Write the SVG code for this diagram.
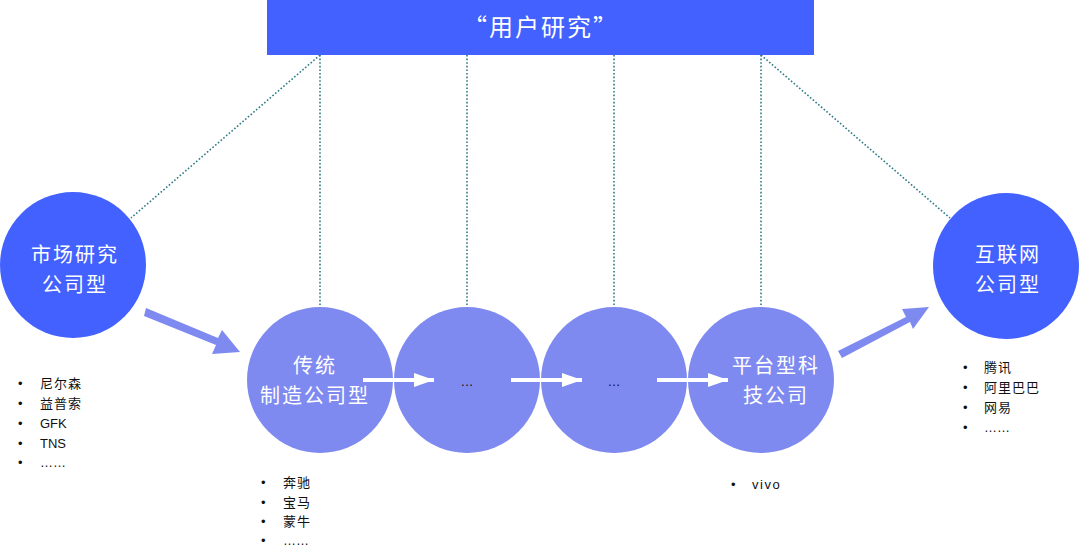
<svg xmlns="http://www.w3.org/2000/svg" width="1080" height="559" viewBox="0 0 1080 559">
<defs>
<style>
.w{fill:#fff;font-size:20px;text-anchor:middle;letter-spacing:2px;font-family:"Noto Sans CJK SC",sans-serif;}
.l{fill:#111;font-size:13px;font-family:"Liberation Sans","Noto Sans CJK SC",sans-serif;}
.dot{stroke:#2e7a86;stroke-width:1.6;stroke-dasharray:1.6 2;fill:none;}
.big{fill:#4361ff;}
.mid{fill:#7f8af0;}
</style>
<marker id="wh" markerWidth="5" markerHeight="3.5" refX="5" refY="1.75" orient="auto" markerUnits="strokeWidth"><path d="M0,0 L5,1.75 L0,3.5 Z" fill="#fff"/></marker>
</defs>
<g id="connectors">
<line class="dot" x1="320" y1="55" x2="320" y2="307"/>
<line class="dot" x1="467" y1="55" x2="467" y2="307"/>
<line class="dot" x1="614" y1="55" x2="614" y2="307"/>
<line class="dot" x1="761" y1="55" x2="761" y2="307"/>
<line class="dot" x1="320" y1="55" x2="131" y2="218"/>
<line class="dot" x1="761" y1="55" x2="950" y2="218"/>
<path d="M146,308 L218,338 L222,330 L240,352 L212,354 L216,345 L144,316 Z" class="mid"/>
<path d="M838,351 L906,317 L902,309 L929,307 L913,329 L910,322 L842,358 Z" class="mid"/>
</g>
<g id="top"><rect x="267" y="0" width="547" height="55" class="big"/><text x="541" y="36" class="w" style="font-size:24px">“用户研究”</text></g>
<g id="n-market"><circle cx="73" cy="265" r="73" class="big"/><text class="w" x="75" y="262">市场研究</text><text class="w" x="75" y="292">公司型</text></g>
<g id="n-internet"><circle cx="1006" cy="266" r="73" class="big"/><text class="w" x="1008" y="262">互联网</text><text class="w" x="1008" y="292">公司型</text></g>
<g id="n-trad"><circle cx="320" cy="380" r="73" class="mid"/><text class="w" x="315" y="373">传统</text><text class="w" x="315" y="403">制造公司型</text></g>
<g id="n-2"><circle cx="467" cy="380" r="73" class="mid"/><text x="467" y="386" class="l" text-anchor="middle">…</text></g>
<g id="n-3"><circle cx="614" cy="380" r="73" class="mid"/><text x="614" y="386" class="l" text-anchor="middle">…</text></g>
<g id="n-platform"><circle cx="761" cy="380" r="73" class="mid"/><text class="w" x="776" y="373">平台型科</text><text class="w" x="776" y="403">技公司</text></g>
<g id="white-arrows">
<line x1="363" y1="380" x2="434" y2="380" stroke="#fff" stroke-width="4" marker-end="url(#wh)"/>
<line x1="511" y1="380" x2="582" y2="380" stroke="#fff" stroke-width="4" marker-end="url(#wh)"/>
<line x1="657" y1="380" x2="728" y2="380" stroke="#fff" stroke-width="4" marker-end="url(#wh)"/>
</g>
<g id="list-market" class="l">
<text x="18" y="388">•</text><text x="40" y="388" letter-spacing="1">尼尔森</text>
<text x="18" y="408">•</text><text x="40" y="408" letter-spacing="1">益普索</text>
<text x="18" y="428">•</text><text x="40" y="428">GFK</text>
<text x="18" y="448">•</text><text x="40" y="448">TNS</text>
<text x="18" y="467">•</text><text x="40" y="467">……</text>
</g>
<g id="list-trad" class="l">
<text x="261" y="487">•</text><text x="283" y="487" letter-spacing="1">奔驰</text>
<text x="261" y="507">•</text><text x="283" y="507" letter-spacing="1">宝马</text>
<text x="261" y="526">•</text><text x="283" y="526" letter-spacing="1">蒙牛</text>
<text x="261" y="545">•</text><text x="283" y="545">……</text>
</g>
<g id="list-platform" class="l"><text x="731" y="489">•</text><text x="752" y="489" letter-spacing="1.5">vivo</text></g>
<g id="list-internet" class="l">
<text x="963" y="372">•</text><text x="984" y="372" letter-spacing="1">腾讯</text>
<text x="963" y="392">•</text><text x="984" y="392" letter-spacing="1">阿里巴巴</text>
<text x="963" y="412">•</text><text x="984" y="412" letter-spacing="1">网易</text>
<text x="963" y="432">•</text><text x="984" y="432">……</text>
</g>
</svg>
